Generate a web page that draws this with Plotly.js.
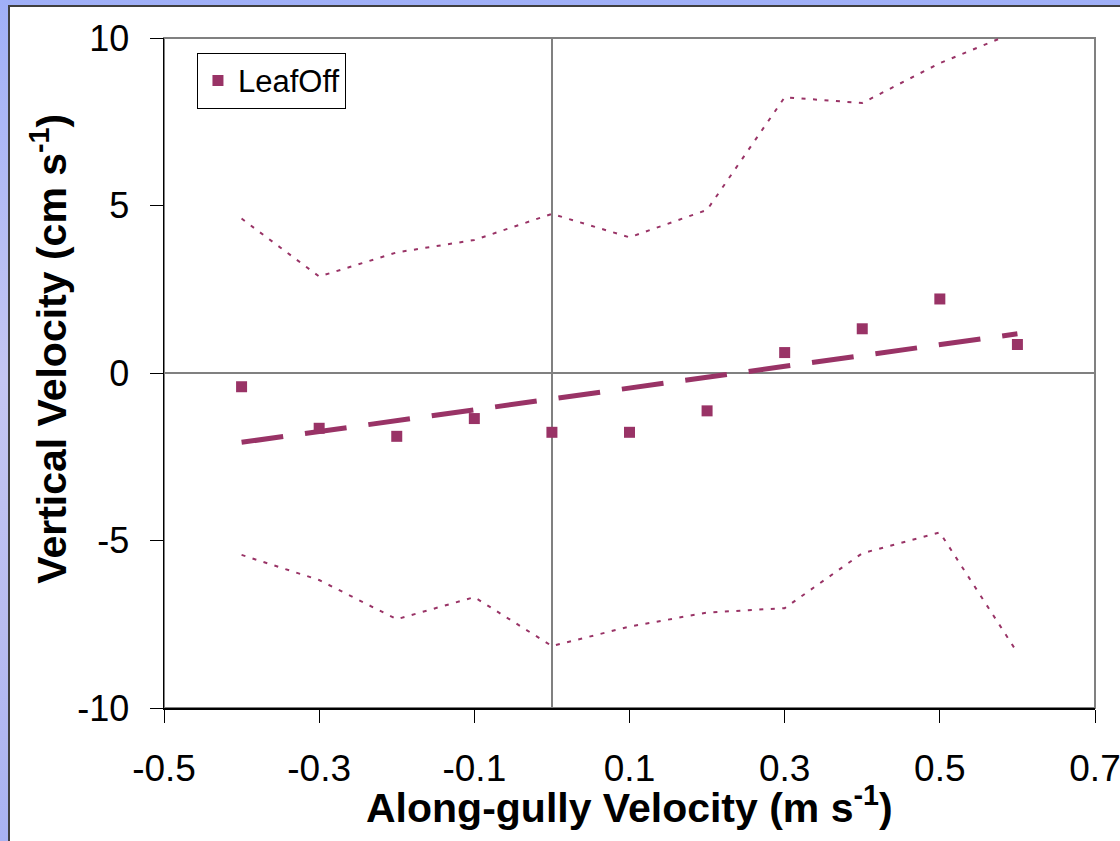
<!DOCTYPE html>
<html>
<head>
<meta charset="utf-8">
<script src="https://cdn.plot.ly/plotly-3.0.1.min.js"></script>
<style>
  html, body { margin: 0; padding: 0; width: 1120px; height: 841px; overflow: hidden; }
  body { background: linear-gradient(to bottom, #A0B0F8 0%, #C4C6F2 45%, #B8BCF0 75%, #A8B2F2 100%); }
  #frame { position: absolute; left: 8px; top: 5px; width: 1112px; height: 836px;
           border-left: 2px solid #404040; border-top: 2px solid #404040; box-sizing: border-box; background: #fff; overflow: hidden; }
  #chart { width: 1110px; height: 834px; }
</style>
</head>
<body>
<div id="frame"><div id="chart"></div></div>
<script>
// Along-gully velocity classes (m s-1)
const alongGully = [-0.4, -0.3, -0.2, -0.1, 0.0, 0.1, 0.2, 0.3, 0.4, 0.5, 0.6];
// Mean vertical velocity, LeafOff (cm s-1)
const leafOff = [-0.41, -1.65, -1.89, -1.36, -1.77, -1.77, -1.13, 0.61, 1.32, 2.21, 0.85];
// Upper and lower confidence bounds (cm s-1)
const upperBound = [4.61, 2.88, 3.60, 3.97, 4.75, 4.05, 4.87, 8.23, 8.06, 9.25, 10.2];
const lowerBound = [-5.43, -6.18, -7.35, -6.69, -8.15, -7.57, -7.15, -7.02, -5.38, -4.76, -8.35];
// Linear trend line end points
const trendX = [-0.4, 0.6];
const trendY = [-2.07, 1.17];
// Tick values and labels
const xTickVals = [-0.5, -0.3, -0.1, 0.1, 0.3, 0.5, 0.7];
const xTickText = ["-0.5", "-0.3", "-0.1", "0.1", "0.3", "0.5", "0.7"];
const yTickVals = [-10, -5, 0, 5, 10];
const yTickText = ["-10", "-5", "0", "5", "10"];
// Titles
const xTitle = "<b>Along-gully Velocity (m s<sup>-1</sup>)</b>";
const yTitle = "<b>Vertical Velocity (cm s<sup>-1</sup>)</b>";

const plum = "#993366";
const fontFam = "Arial, 'Liberation Sans', sans-serif";

const traces = [
  { x: alongGully, y: upperBound, type: "scatter", mode: "lines", showlegend: false, hoverinfo: "skip",
    line: { color: plum, width: 2, dash: "4px,7.5px" } },
  { x: alongGully, y: lowerBound, type: "scatter", mode: "lines", showlegend: false, hoverinfo: "skip",
    line: { color: plum, width: 2, dash: "4px,7.5px" } },
  { x: trendX, y: trendY, type: "scatter", mode: "lines", showlegend: false, hoverinfo: "skip",
    line: { color: plum, width: 5, dash: "42px,22px" } },
  { x: alongGully, y: leafOff, type: "scatter", mode: "markers", name: "LeafOff",
    marker: { symbol: "square", size: 11, color: plum } }
];

const layout = {
  width: 1110, height: 834, autosize: false,
  margin: { l: 154, r: 25, t: 31, b: 133, pad: 0 },
  paper_bgcolor: "#ffffff", plot_bgcolor: "#ffffff",
  font: { family: fontFam, color: "#000" },
  showlegend: true,
  legend: { x: 0.0354, y: 0.978, xanchor: "left", yanchor: "top",
            bgcolor: "#fff", bordercolor: "#000", borderwidth: 1,
            font: { family: fontFam, size: 31, color: "#000" } },
  xaxis: {
    range: [-0.5, 0.7], tickmode: "array", tickvals: xTickVals, ticktext: xTickText,
    showgrid: false, zeroline: true, zerolinecolor: "#808080", zerolinewidth: 1.5,
    showline: true, linecolor: "#000", linewidth: 1.5, mirror: false,
    ticks: "outside", ticklen: 13, tickwidth: 1, tickcolor: "#000",
    ticklabelstandoff: 14, ticklabeloverflow: "allow",
    tickfont: { family: fontFam, size: 37, color: "#000" }
  },
  yaxis: {
    range: [-10, 10], tickmode: "array", tickvals: yTickVals, ticktext: yTickText,
    showgrid: false, zeroline: true, zerolinecolor: "#808080", zerolinewidth: 1.5,
    showline: true, linecolor: "#000", linewidth: 1.5, mirror: false,
    ticks: "outside", ticklen: 13, tickwidth: 1, tickcolor: "#000",
    ticklabelstandoff: 13, ticklabeloverflow: "allow",
    tickfont: { family: fontFam, size: 36, color: "#000" }
  },
  annotations: [
    { text: xTitle, xref: "paper", yref: "paper", x: 0.5, y: -0.145,
      xanchor: "center", yanchor: "middle", showarrow: false,
      font: { family: fontFam, size: 41, color: "#000" } },
    { text: yTitle, xref: "paper", yref: "paper", x: -0.123, y: 0.537, textangle: -90,
      xanchor: "center", yanchor: "middle", showarrow: false,
      font: { family: fontFam, size: 41, color: "#000" } }
  ],
  shapes: [
    { type: "rect", xref: "paper", yref: "paper", x0: 0, x1: 1, y0: 0, y1: 1,
      line: { color: "#808080", width: 2 }, layer: "below" }
  ]
};

Plotly.newPlot("chart", traces, layout, { displayModeBar: false, staticPlot: true });
</script>
</body>
</html>
